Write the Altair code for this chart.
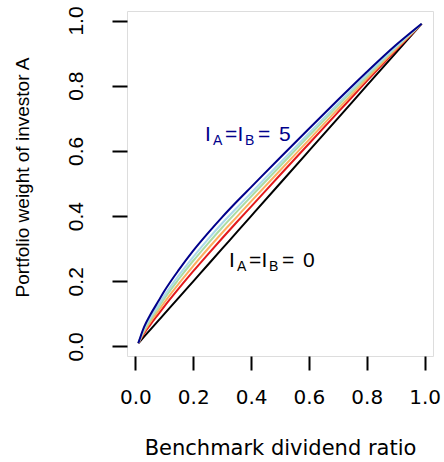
import altair as alt
import pandas as pd

# Benchmark dividend ratio grid and the portfolio weight of investor A
# for habit levels I_A = I_B = 0 ... 5
ratio = [0.01, 0.03, 0.05, 0.08, 0.10, 0.15, 0.20, 0.25, 0.30, 0.35,
         0.40, 0.50, 0.60, 0.70, 0.80, 0.90, 0.99]
weight_i0 = [0.01, 0.03, 0.05, 0.08, 0.10, 0.15, 0.20, 0.25, 0.30, 0.35,
             0.40, 0.50, 0.60, 0.70, 0.80, 0.90, 0.99]
weight_i1 = [0.01, 0.040, 0.065, 0.100, 0.123, 0.178, 0.231, 0.282, 0.332, 0.381,
             0.429, 0.526, 0.622, 0.718, 0.814, 0.908, 0.99]
weight_i2 = [0.01, 0.045, 0.073, 0.110, 0.135, 0.193, 0.247, 0.299, 0.349, 0.397,
             0.445, 0.540, 0.634, 0.728, 0.821, 0.912, 0.99]
weight_i3 = [0.01, 0.050, 0.080, 0.120, 0.147, 0.207, 0.263, 0.315, 0.365, 0.413,
             0.460, 0.553, 0.646, 0.738, 0.828, 0.916, 0.99]
weight_i4 = [0.01, 0.054, 0.086, 0.128, 0.156, 0.218, 0.275, 0.328, 0.378, 0.425,
             0.471, 0.563, 0.654, 0.745, 0.834, 0.919, 0.99]
weight_i5 = [0.01, 0.060, 0.095, 0.140, 0.170, 0.235, 0.294, 0.347, 0.397, 0.444,
             0.489, 0.579, 0.668, 0.756, 0.842, 0.924, 0.99]

habit_levels = ["0", "1", "2", "3", "4", "5"]
line_colors = ["#000000", "#E31A1C", "#FDAE61", "#ABDDA4", "#ABD9E9", "#00008B"]
tick_values = [0.0, 0.2, 0.4, 0.6, 0.8, 1.0]

series = [weight_i0, weight_i1, weight_i2, weight_i3, weight_i4, weight_i5]
rows = []
for level, weights in zip(habit_levels, series):
    for r, w in zip(ratio, weights):
        rows.append({"ratio": r, "weight": w, "level": level})
df = pd.DataFrame(rows)

domain = [-0.0292, 1.0292]
xs = alt.Scale(domain=domain, nice=False, zero=False)
ys = alt.Scale(domain=domain, nice=False, zero=False)

LABEL_FONT = "DejaVu Sans"
SANS_FONT = "Liberation Sans"

lines = alt.Chart(df).mark_line(strokeWidth=2, interpolate="monotone").encode(
    x=alt.X("ratio:Q", scale=xs, axis=alt.Axis(
        values=tick_values, format=".1f", grid=False, domain=False,
        tickSize=14, tickWidth=2, tickColor="black",
        labelFont=LABEL_FONT, labelFontSize=20, labelColor="black",
        labelPadding=17, labelBaseline="top", labelFlush=False,
        labelOverlap=False, labelBound=False,
        title="Benchmark dividend ratio", titleFont=LABEL_FONT,
        titleFontSize=21, titleFontWeight="normal", titleColor="black",
        titleBaseline="alphabetic", titleAlign="center",
        titleX=153, titleY=98.5)),
    y=alt.Y("weight:Q", scale=ys, axis=alt.Axis(
        values=tick_values, format=".1f", grid=False, domain=False,
        tickSize=15, tickWidth=2, tickColor="black",
        labelFont=SANS_FONT, labelFontSize=21, labelColor="black",
        labelAngle=270, labelAlign="center", labelBaseline="alphabetic",
        labelPadding=29.5, labelFlush=False, labelOverlap=False, labelBound=False,
        title="Portfolio weight of investor A", titleFont=SANS_FONT,
        titleFontSize=19, titleFontWeight="normal", titleColor="black",
        titleAngle=270, titleBaseline="alphabetic", titleAlign="center",
        titleX=-99, titleY=166)),
    color=alt.Color("level:N", scale=alt.Scale(domain=habit_levels, range=line_colors),
                    legend=None),
    detail="level:N",
)

# Curve annotations with subscripted habit labels
label_pos = pd.DataFrame({
    "ratio": [0.241, 0.324],
    "weight": [0.629, 0.245],
    "value": ["5", "0"],
    "tone": ["#00008B", "#000000"],
})


def piece(text, dx, dy, size):
    return alt.Chart(label_pos).mark_text(
        text=text, dx=dx, dy=dy, fontSize=size, font=SANS_FONT,
        align="left", baseline="alphabetic",
    ).encode(
        x=alt.X("ratio:Q", scale=xs),
        y=alt.Y("weight:Q", scale=ys),
        color=alt.Color("tone:N", scale=None),
    )


label_I1 = piece("I", 0, 0, 21)
label_A = piece("A", 8, 4, 14)
label_eq1 = piece("=", 20, 0, 21)
label_I2 = piece("I", 32.5, 0, 21)
label_B = piece("B", 40, 4, 14)
label_eq2 = piece("=", 53, 0, 21)
label_value = alt.Chart(label_pos).mark_text(
    dx=74, fontSize=21, font=SANS_FONT, align="left", baseline="alphabetic",
).encode(
    x=alt.X("ratio:Q", scale=xs),
    y=alt.Y("weight:Q", scale=ys),
    text=alt.Text("value:N"),
    color=alt.Color("tone:N", scale=None),
)

chart = alt.layer(
    lines, label_I1, label_A, label_eq1, label_I2, label_B, label_eq2, label_value
).properties(
    width=306, height=345,
    padding={"left": 127, "top": 11, "right": 11, "bottom": 106},
    autosize=alt.AutoSizeParams(type="none"),
).configure_view(
    stroke="black", strokeWidth=2, fill="white"
).configure(background="white")

chart.save("out.html", embed_options={"renderer": "svg", "actions": False})
